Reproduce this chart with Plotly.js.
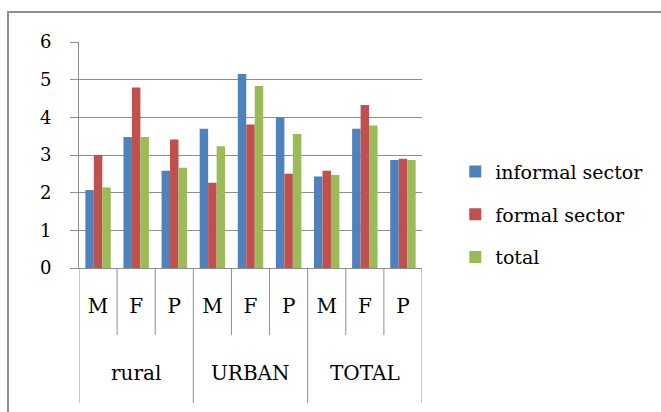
<!DOCTYPE html>
<html>
<head>
<meta charset="utf-8">
<script src="https://cdn.plot.ly/plotly-3.0.1.min.js"></script>
<style>
  html, body { margin: 0; padding: 0; background: #ffffff; overflow: hidden; }
  #wrap { position: relative; width: 661px; height: 412px; }
  #chart { position: absolute; left: 0; top: 0; width: 661px; height: 412px; }
  #frame { position: absolute; left: 7px; top: 11px; width: 700px; height: 450px;
           border-left: 2px solid #8e8e8e; border-top: 2px solid #8e8e8e; pointer-events: none; }
</style>
</head>
<body>
<div id="wrap">
  <div id="chart"></div>
  <div id="frame"></div>
</div>
<script>
// ---- data ----
const groups = ["rural", "URBAN", "TOTAL"];
const subcats = ["M", "F", "P"];
const seriesNames = ["informal sector", "formal sector", "total"];
const informalSector = [2.07, 3.48, 2.58, 3.70, 5.15, 4.00, 2.43, 3.70, 2.87];
const formalSector   = [3.00, 4.79, 3.41, 2.26, 3.81, 2.50, 2.58, 4.33, 2.90];
const totalValues    = [2.14, 3.48, 2.66, 3.23, 4.83, 3.56, 2.47, 3.78, 2.87];
const colors = ["#4F81BD", "#C0504D", "#9BBB59"];

// ---- build ----
const serif = "DejaVu Serif";
const tickText = [];
groups.forEach(() => subcats.forEach(s => tickText.push(s)));
const xIdx = tickText.map((_, i) => i);
const seriesValues = [informalSector, formalSector, totalValues];

const traces = seriesValues.map((vals, k) => ({
  type: "bar",
  name: seriesNames[k],
  x: xIdx,
  y: vals,
  legendgroup: "g" + k,
  marker: { color: colors[k], line: { width: 0 } },
  hoverinfo: "skip"
}));

const lineColor = "#8e8e8e";
const nCat = tickText.length;
const nSub = subcats.length;
// pixel geometry of plot: top 42, bottom 268 (height 226)
const plotH = 226;
const innerBottom = -(335 - 268) / plotH;
const outerBottom = -(403 - 268) / plotH;
const groupLabelY = -(373 - 268) / plotH;

const shapes = [];
for (let b = 0; b <= nCat; b++) {
  const xb = b - 0.5;
  const isGroup = (b % nSub === 0);
  shapes.push({
    type: "line", xref: "x", yref: "paper",
    x0: xb, x1: xb, y0: 0, y1: isGroup ? outerBottom : innerBottom,
    line: { color: lineColor, width: 1 }
  });
}

const annotations = groups.map((g, gi) => ({
  text: g, xref: "x", yref: "paper",
  x: gi * nSub + (nSub - 1) / 2, y: groupLabelY,
  showarrow: false, yanchor: "middle", xanchor: "center",
  font: { family: serif, size: 20, color: "#000" }
}));

const layout = {
  width: 661, height: 412,
  font: { family: serif, color: "#000" },
  margin: { l: 79, r: 239, t: 42, b: 144, pad: 0 },
  paper_bgcolor: "#ffffff", plot_bgcolor: "#ffffff",
  barmode: "group", bargap: 0.333, bargroupgap: 0,
  showlegend: true,
  legend: {
    x: 1.097, xanchor: "left", y: 0.51, yanchor: "top",
    font: { family: serif, size: 19, color: "#000" },
    tracegroupgap: 15, traceorder: "grouped",
    bgcolor: "rgba(0,0,0,0)", borderwidth: 0
  },
  xaxis: {
    range: [-0.5, nCat - 0.5],
    tickvals: xIdx, ticktext: tickText,
    ticks: "", showgrid: false, zeroline: false,
    showline: true, linecolor: lineColor, linewidth: 1,
    ticklabelstandoff: 20,
    tickfont: { family: serif, size: 20, color: "#000" },
    fixedrange: true
  },
  yaxis: {
    range: [0, 6], dtick: 1, tick0: 0,
    showgrid: true, gridcolor: lineColor, gridwidth: 1,
    zeroline: false,
    showline: true, linecolor: lineColor, linewidth: 1,
    ticks: "outside", ticklen: 8, tickcolor: lineColor, tickwidth: 1,
    ticklabelstandoff: 15,
    tickfont: { family: serif, size: 18, color: "#000" },
    fixedrange: true
  },
  shapes: shapes,
  annotations: annotations
};

Plotly.newPlot("chart", traces, layout, { displayModeBar: false, staticPlot: true });
</script>
</body>
</html>
